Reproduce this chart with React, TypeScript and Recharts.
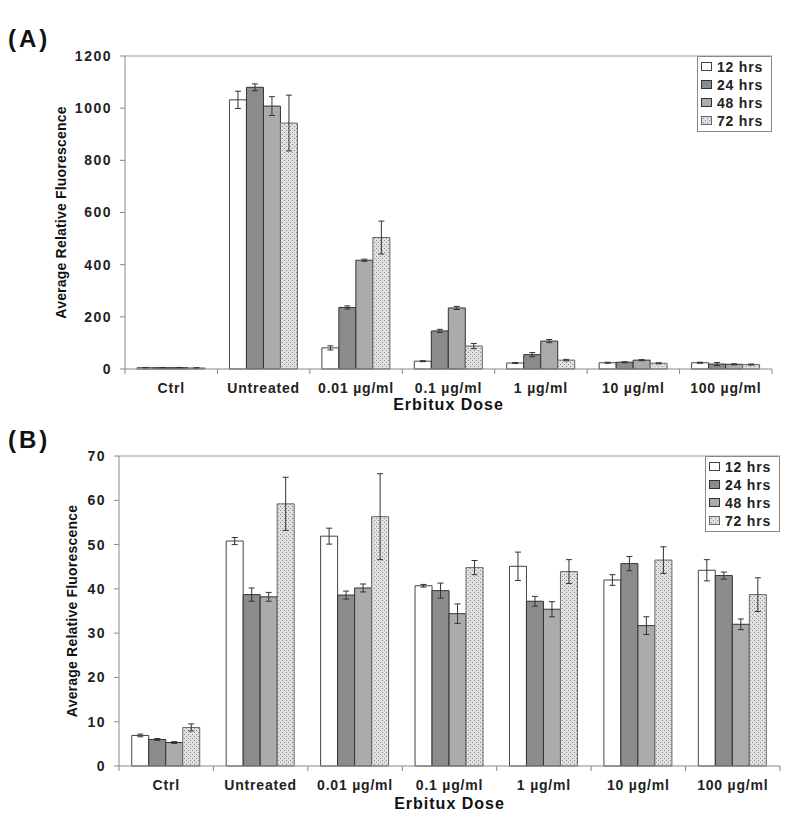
import { BarChart, Bar, XAxis, YAxis, ErrorBar, Legend, Label, ReferenceLine } from 'recharts';

const FONT = '"Liberation Sans", Arial, sans-serif';

const doses = ['Ctrl', 'Untreated', '0.01 µg/ml', '0.1 µg/ml', '1 µg/ml', '10 µg/ml', '100 µg/ml'];
const seriesNames = ['12 hrs', '24 hrs', '48 hrs', '72 hrs'];

// panel A – values and SD
const a12 = [5, 1032, 81, 30, 23, 24, 24];
const a24 = [5, 1080, 236, 146, 55, 26, 19];
const a48 = [5, 1008, 417, 234, 107, 34, 18];
const a72 = [4, 943, 504, 88, 34, 22, 17];
const aErr12 = [1, 33, 8, 2, 2, 2, 2];
const aErr24 = [1, 13, 6, 6, 8, 2, 6];
const aErr48 = [1, 36, 4, 6, 6, 2, 2];
const aErr72 = [1, 107, 63, 10, 3, 2, 2];
const aTicks = [0, 200, 400, 600, 800, 1000, 1200];

// panel B – values and SD
const b12 = [6.9, 50.8, 51.9, 40.7, 45.1, 42.0, 44.2];
const b24 = [6.0, 38.7, 38.6, 39.6, 37.2, 45.7, 43.0];
const b48 = [5.3, 38.2, 40.2, 34.4, 35.4, 31.7, 32.0];
const b72 = [8.7, 59.2, 56.3, 44.8, 43.9, 46.5, 38.7];
const bErr12 = [0.3, 0.8, 1.8, 0.3, 3.2, 1.2, 2.4];
const bErr24 = [0.2, 1.5, 0.9, 1.7, 1.1, 1.6, 0.8];
const bErr48 = [0.2, 1.0, 0.9, 2.2, 1.7, 2.0, 1.2];
const bErr72 = [0.8, 6.0, 9.7, 1.6, 2.7, 3.0, 3.8];
const bTicks = [0, 10, 20, 30, 40, 50, 60, 70];

const rows = (v: number[][], e: number[][]) =>
  doses.map((dose, i) => ({
    dose,
    h12: v[0][i], h24: v[1][i], h48: v[2][i], h72: v[3][i],
    e12: e[0][i], e24: e[1][i], e48: e[2][i], e72: e[3][i],
  }));

const dataA = rows([a12, a24, a48, a72], [aErr12, aErr24, aErr48, aErr72]);
const dataB = rows([b12, b24, b48, b72], [bErr12, bErr24, bErr48, bErr72]);

const barStyle = (i: number, pid: string) =>
  [
    { fill: '#ffffff', stroke: '#444' },
    { fill: '#8c8c8c', stroke: '#333' },
    { fill: '#ababab', stroke: '#333' },
    { fill: `url(#${pid})`, stroke: '#666' },
  ][i];

const keys = ['h12', 'h24', 'h48', 'h72'];
const errKeys = ['e12', 'e24', 'e48', 'e72'];

const DoseTick = (props: any) => {
  const { x, y, payload, index, band } = props;
  const axisY = y - 14;
  return (
    <g>
      <line x1={x - band / 2} x2={x - band / 2} y1={axisY} y2={axisY + 5} stroke="#888" />
      {index === doses.length - 1 && (
        <line x1={x + band / 2} x2={x + band / 2} y1={axisY} y2={axisY + 5} stroke="#888" />
      )}
      <text x={x} y={y} dy="0.71em" textAnchor="middle" fontFamily={FONT} fontSize={14}
        fontWeight="bold" fill="#222" style={{ letterSpacing: 0.8 }}>
        {payload.value}
      </text>
    </g>
  );
};

const LegendBox = ({ pid }: { pid: string }) => (
  <div style={{
    width: 75, boxSizing: 'border-box',
    border: '1.5px solid #888', background: '#fff', padding: '1px 0 1px 3px',
    fontFamily: FONT, fontWeight: 'bold', fontSize: 14, color: '#222', letterSpacing: 0.8,
  }}>
    {seriesNames.map((s, i) => (
      <div key={s} style={{ display: 'flex', alignItems: 'center', height: 18 }}>
        <svg width={12} height={10} style={{ marginRight: 4 }}>
          <rect x={0.5} y={0.5} width={10} height={8} fill={barStyle(i, pid).fill}
            stroke={barStyle(i, pid).stroke} />
        </svg>
        {s}
      </div>
    ))}
  </div>
);

interface PanelProps {
  letter: string;
  top: number;
  height: number;
  data: any[];
  ticks: number[];
  margin: { top: number; right: number; left: number; bottom: number };
  xAxisHeight: number;
  titleOffset: number;
  labelOffset: number;
  legendAt: { left: number; top: number };
  pid: string;
  barGapPct: string;
  letterTop: number;
}

const Panel = ({ letter, top, height, data, ticks, margin, xAxisHeight, titleOffset, labelOffset, legendAt, pid, barGapPct, letterTop }: PanelProps) => {
  const yMax = ticks[ticks.length - 1];
  const band = (800 - margin.left - 60 - margin.right) / doses.length;
  return (
    <div style={{ position: 'absolute', left: 0, top, width: 800, height }}>
      <div style={{
        position: 'absolute', left: 8, top: letterTop, fontFamily: FONT,
        fontWeight: 'bold', fontSize: 24, letterSpacing: 3, color: '#111', zIndex: 2,
      }}>{letter}</div>
      <BarChart width={800} height={height} data={data} margin={margin}
        barGap={0} barCategoryGap={barGapPct}>
        <defs>
          <pattern id={pid} width={4} height={4} patternUnits="userSpaceOnUse">
            <rect width={4} height={4} fill="#e0e0e0" />
            <rect x={0} y={0} width={1} height={1} fill="#8e8e8e" />
            <rect x={2} y={2} width={1} height={1} fill="#8e8e8e" />
          </pattern>
        </defs>
        <XAxis dataKey="dose" interval={0} height={xAxisHeight} tickSize={0} tickMargin={14}
          axisLine={{ stroke: '#888' }}
          tick={(p: any) => <DoseTick {...p} band={band} />}>
          <Label value="Erbitux Dose" position="insideBottom" offset={titleOffset}
            style={{ fontFamily: FONT, fontWeight: 'bold', fontSize: 16, fill: '#111', letterSpacing: 1 }} />
        </XAxis>
        <YAxis domain={[0, yMax]} ticks={ticks} width={60} tickSize={5} tickMargin={8}
          axisLine={{ stroke: '#888' }} tickLine={{ stroke: '#888' }}
          tick={{ fontFamily: FONT, fontSize: 14, fontWeight: 'bold', fill: '#222', style: { letterSpacing: 1.5 } }}>
          <Label value="Average Relative Fluorescence" angle={-90} position="insideLeft" offset={labelOffset}
            style={{ textAnchor: 'middle', fontFamily: FONT, fontWeight: 'bold', fontSize: 14, fill: '#111', letterSpacing: 0.2 }} />
        </YAxis>
        <YAxis yAxisId="frame" orientation="right" domain={[0, yMax]} width={0}
          tick={false} tickLine={false} axisLine={{ stroke: '#bbb', strokeWidth: 1.5 }} />
        <ReferenceLine y={yMax} stroke="#bbb" strokeWidth={1.5} />
        <Legend layout="vertical" align="center" verticalAlign="middle"
          wrapperStyle={{ left: legendAt.left, top: legendAt.top, width: 75 }}
          content={() => <LegendBox pid={pid} />} />
        {keys.map((k, i) => (
          <Bar key={k} dataKey={k} name={seriesNames[i]} isAnimationActive={false}
            fill={barStyle(i, pid).fill} stroke={barStyle(i, pid).stroke} strokeWidth={1}>
            <ErrorBar dataKey={errKeys[i]} width={3} stroke="#333" strokeWidth={1} direction="y" />
          </Bar>
        ))}
      </BarChart>
    </div>
  );
};

export default function App() {
  return (
    <div style={{ position: 'absolute', left: 0, top: 0, width: 800, height: 819, background: '#fff' }}>
      <Panel letter="(A)" top={0} height={420} data={dataA} ticks={aTicks}
        margin={{ top: 56, right: 28, left: 65, bottom: 0 }} xAxisHeight={51} titleOffset={10}
        labelOffset={-4} legendAt={{ left: 697, top: 56 }} pid="dotsA" barGapPct="13%" letterTop={25} />
      <Panel letter="(B)" top={410} height={409} data={dataB} ticks={bTicks}
        margin={{ top: 46, right: 20, left: 59, bottom: 9 }} xAxisHeight={44} titleOffset={1}
        labelOffset={13} legendAt={{ left: 705, top: 46 }} pid="dotsB" barGapPct="13.5%" letterTop={16} />
    </div>
  );
}
